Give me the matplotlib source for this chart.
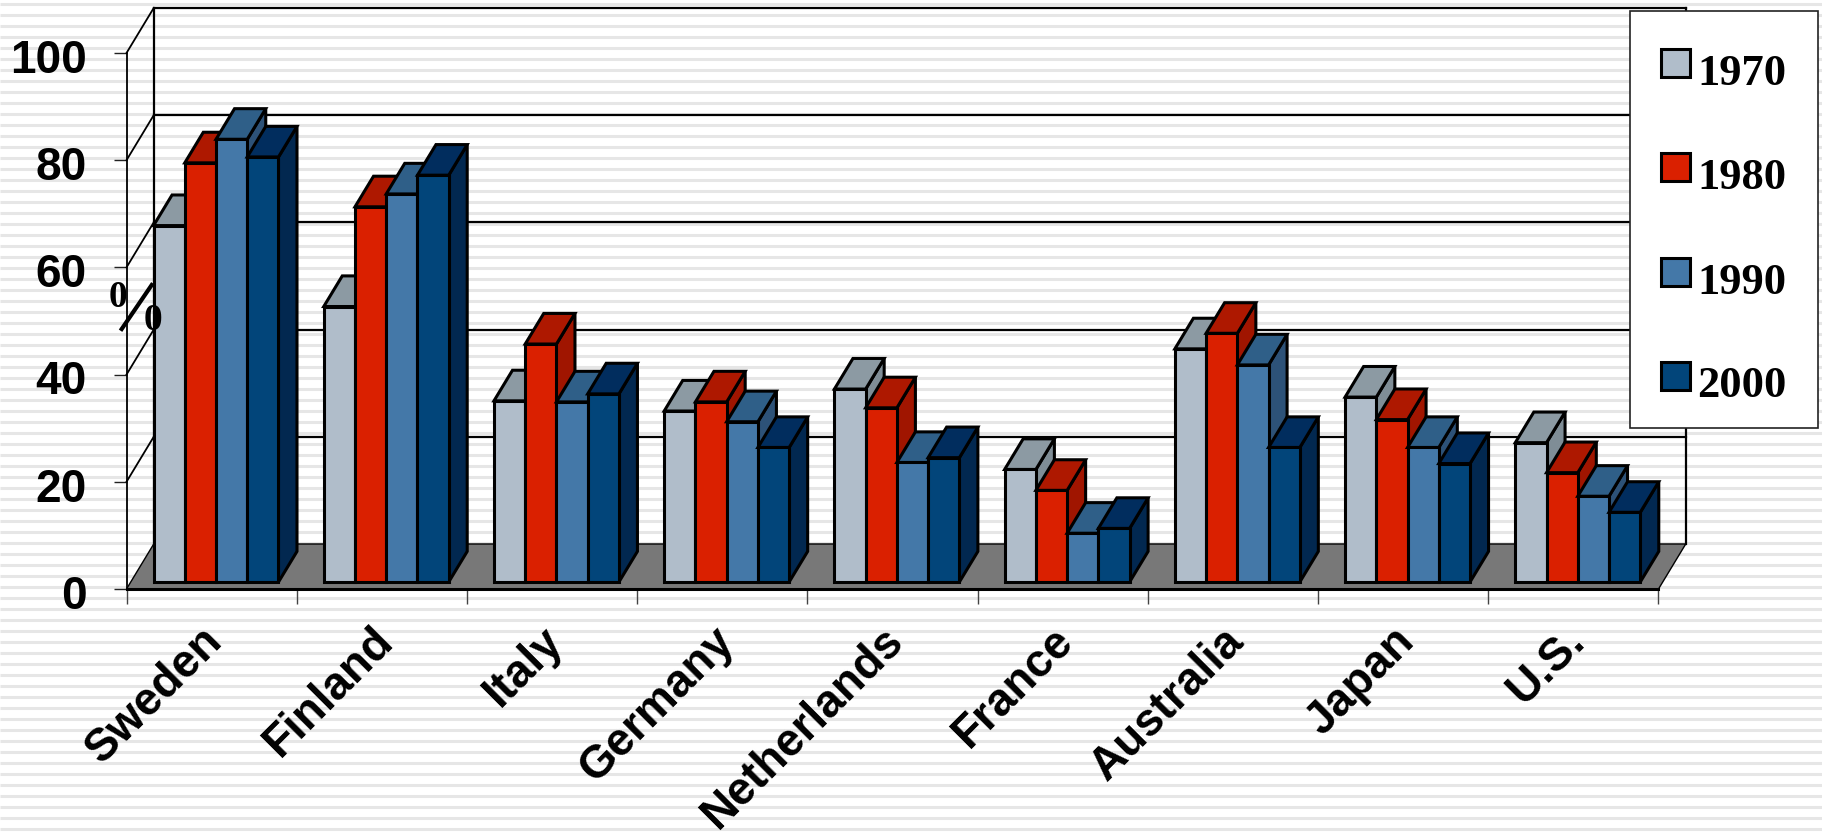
"""Grouped pseudo-3D bars by country and decade, drawn as oblique projected polygons."""

import numpy as np
import matplotlib
matplotlib.use("Agg")
import matplotlib.pyplot as plt
from matplotlib.patches import Polygon, Rectangle
from matplotlib.transforms import ScaledTranslation

COUNTRIES = ["Sweden", "Finland", "Italy", "Germany", "Netherlands",
             "France", "Australia", "Japan", "U.S."]
YEARS = ["1970", "1980", "1990", "2000"]
VALUES_1970 = [66.5, 51.4, 33.8, 31.9, 36.0, 21.0, 43.5, 34.5, 26.0]
VALUES_1980 = [78.2, 70.0, 44.4, 33.6, 32.5, 17.1, 46.4, 30.3, 20.4]
VALUES_1990 = [82.6, 72.4, 33.6, 29.9, 22.3, 9.1, 40.5, 25.1, 16.0]
VALUES_2000 = [79.3, 75.9, 35.1, 25.1, 23.2, 10.0, 25.1, 22.1, 13.0]
SERIES = [VALUES_1970, VALUES_1980, VALUES_1990, VALUES_2000]
Y_TICKS = [0, 20, 40, 60, 80, 100]

FRONT_COLORS = ["#b0bdca", "#da2000", "#4478a8", "#02457a"]
TOP_COLORS = ["#8c9aa3", "#ae1800", "#2f5f88", "#012d5e"]
SIDE_COLORS = ["#7f8d96", "#a01500", "#2d5278", "#022850"]

W, H = 1822, 836
DEPTH_X = 0.16   # box depth in category units
DEPTH_Y = 8.4    # box depth in value units
BAR_D0, BAR_D1 = 0.155, 0.835
GROUP_GAP = 0.134
BAR_W = 0.1835
EDGE = 2.2

plt.rcParams["font.family"] = "Liberation Sans"


def fig_xy(x, y):
    return x / W, 1 - y / H


def draw_box(ax, x, value, i):
    """One bar: side and top faces first, so the front face sits over their edges."""
    fx = x + BAR_D0 * DEPTH_X
    fy = BAR_D0 * DEPTH_Y
    bx = x + BAR_D1 * DEPTH_X
    by = BAR_D1 * DEPTH_Y
    faces = [
        ([(fx + BAR_W, fy), (bx + BAR_W, by), (bx + BAR_W, value + by), (fx + BAR_W, value + fy)], SIDE_COLORS[i]),
        ([(fx, value + fy), (fx + BAR_W, value + fy), (bx + BAR_W, value + by), (bx, value + by)], TOP_COLORS[i]),
        ([(fx, fy), (fx + BAR_W, fy), (fx + BAR_W, value + fy), (fx, value + fy)], FRONT_COLORS[i]),
    ]
    for pts, color in faces:
        ax.add_patch(Polygon(pts, closed=True, facecolor=color, edgecolor="black",
                             linewidth=EDGE, joinstyle="miter", clip_on=False, zorder=4))


def draw_legend(fig):
    """Legend box on the right, over the back wall."""
    x0, y0 = fig_xy(1630, 428)
    fig.add_artist(Rectangle((x0, y0), 188 / W, 417 / H, transform=fig.transFigure, facecolor="white",
                             edgecolor="#222222", linewidth=1.2, zorder=10))
    swatch_tops = [49, 153, 258, 362]
    baselines = [85, 189, 294, 397]
    for year, color, top, base in zip(YEARS, FRONT_COLORS, swatch_tops, baselines):
        sx, sy = fig_xy(1661, top + 28)
        fig.add_artist(Rectangle((sx, sy), 29 / W, 28 / H, transform=fig.transFigure, facecolor=color,
                                 edgecolor="black", linewidth=2.2, zorder=11))
        fig.text(*fig_xy(1697, base), year, family="Liberation Serif", fontweight="bold", fontsize=32,
                 ha="left", va="baseline", zorder=11)


fig = plt.figure(figsize=(W / 100, H / 100), dpi=100, facecolor="white")

# striped slide background
bg = fig.add_axes([0, 0, 1, 1])
bg.set_xlim(0, W)
bg.set_ylim(H, 0)
bg.axis("off")
bg.hlines(np.arange(3.5, H, 11.0), 0, W, color="#e6e6e6", linewidth=2.2)

left, bottom = fig_xy(126.5, 589)
ax = fig.add_axes([left, bottom, 1532 / W, 536 / H])
ax.patch.set_alpha(0)
n = len(COUNTRIES)
ax.set_xlim(0, n)
ax.set_ylim(0, 100)

# floor and back wall
ax.add_patch(Polygon([(0, 0), (n, 0), (n + DEPTH_X, DEPTH_Y), (DEPTH_X, DEPTH_Y)], closed=True,
                     facecolor="#787878", edgecolor="black", linewidth=1.0, clip_on=False, zorder=1))
for v in Y_TICKS[1:]:
    ax.plot([DEPTH_X, n + DEPTH_X], [v + DEPTH_Y, v + DEPTH_Y], color="black", lw=1.6, clip_on=False, zorder=2)
    ax.plot([0, DEPTH_X], [v, v + DEPTH_Y], color="black", lw=1.3, clip_on=False, zorder=2)
ax.plot([DEPTH_X, DEPTH_X], [DEPTH_Y, 100 + DEPTH_Y], color="black", lw=1.6, clip_on=False, zorder=2)
ax.plot([n + DEPTH_X, n + DEPTH_X], [DEPTH_Y, 100 + DEPTH_Y], color="black", lw=1.6, clip_on=False, zorder=2)
ax.plot([0, n], [0, 0], color="black", lw=2.2, clip_on=False, zorder=3)

for g in range(n):
    for i, values in enumerate(SERIES):
        draw_box(ax, g + GROUP_GAP + i * BAR_W, values[g], i)

# axes: the left spine is the front edge of the wall
for name in ["top", "right", "bottom"]:
    ax.spines[name].set_visible(False)
ax.spines["left"].set_linewidth(1.3)
ax.set_yticks(Y_TICKS)
ax.set_yticklabels([str(v) for v in Y_TICKS], fontsize=33, fontweight="bold")
ax.tick_params(axis="y", length=9.5, width=1.0, color="#222222", pad=19)
shift_y = ScaledTranslation(0, -2 / 72, fig.dpi_scale_trans)
for label in ax.get_yticklabels():
    label.set_transform(label.get_transform() + shift_y)
ax.set_xticks(np.arange(n + 1))
ax.set_xticklabels([])
ax.tick_params(axis="x", which="major", length=11, width=1.0, color="#444444")
ax.set_xticks(np.arange(n) + 0.5, minor=True)
ax.set_xticklabels(COUNTRIES, minor=True, fontsize=33, fontweight="bold",
                   rotation=45, ha="right", va="top", rotation_mode="anchor")
ax.tick_params(axis="x", which="minor", length=0, pad=21.5)
shift_x = ScaledTranslation(-8 / 72, 0, fig.dpi_scale_trans)
for label in ax.get_xticklabels(minor=True):
    label.set_transform(label.get_transform() + shift_x)

# broken percent sign standing on the wall
fig.text(*fig_xy(118, 298), "0", family="Liberation Serif", fontweight="bold", fontsize=27,
         ha="center", va="center", zorder=6)
fig.text(*fig_xy(153, 321), "0", family="Liberation Serif", fontweight="bold", fontsize=27,
         ha="center", va="center", zorder=6)
x0, y0 = fig_xy(121.7, 329)
x1, y1 = fig_xy(151.7, 285)
fig.add_artist(plt.Line2D([x0, x1], [y0, y1], color="black", lw=3.0, zorder=6))

draw_legend(fig)

fig.savefig("out.png", dpi=100)
